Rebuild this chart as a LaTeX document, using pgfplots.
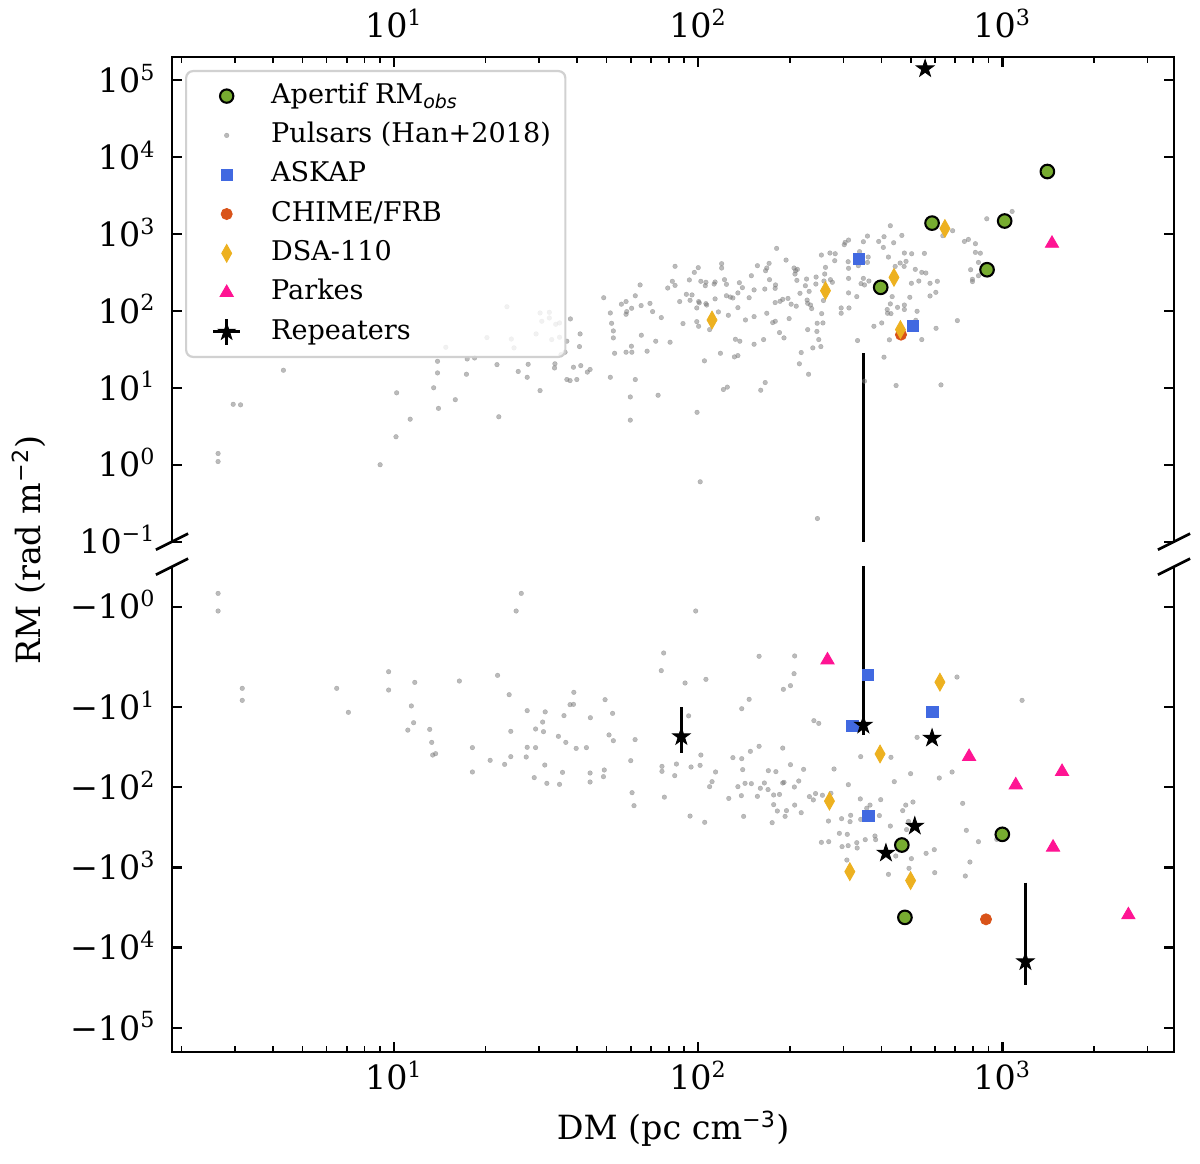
\documentclass[border=0pt]{standalone}
\usepackage{pgfplots}
\usepackage{pgfplotstable}
\pgfplotsset{compat=1.18}
\usepackage{fontspec}
\setmainfont{DejaVu Serif}
\newfontfamily\dvsans{DejaVu Sans}

\definecolor{apgreen}{RGB}{119,172,48}
\definecolor{askapblue}{RGB}{65,105,225}
\definecolor{chimeorange}{RGB}{217,83,25}
\definecolor{dsagold}{RGB}{237,177,32}
\definecolor{parkespink}{RGB}{255,20,147}
\definecolor{psrgray}{RGB}{119,119,119}
\definecolor{legframe}{RGB}{204,204,204}

\newcommand{\tp}[1]{10\textsuperscript{#1}}

\pgfdeclareplotmark{fstar}{%
  \pgfpathmoveto{\pgfpointpolar{90}{\pgfplotmarksize}}%
  \pgfpathlineto{\pgfpointpolar{126}{0.382\pgfplotmarksize}}%
  \pgfpathlineto{\pgfpointpolar{162}{\pgfplotmarksize}}%
  \pgfpathlineto{\pgfpointpolar{198}{0.382\pgfplotmarksize}}%
  \pgfpathlineto{\pgfpointpolar{234}{\pgfplotmarksize}}%
  \pgfpathlineto{\pgfpointpolar{270}{0.382\pgfplotmarksize}}%
  \pgfpathlineto{\pgfpointpolar{306}{\pgfplotmarksize}}%
  \pgfpathlineto{\pgfpointpolar{342}{0.382\pgfplotmarksize}}%
  \pgfpathlineto{\pgfpointpolar{18}{\pgfplotmarksize}}%
  \pgfpathlineto{\pgfpointpolar{54}{0.382\pgfplotmarksize}}%
  \pgfpathclose
  \pgfusepathqfillstroke
}
% star with error-bar cross, used only for the legend entry of the repeaters
\pgfdeclareplotmark{fstarcross}{%
  \pgfsetlinewidth{1.1pt}%
  \pgfpathmoveto{\pgfqpoint{-4.8pt}{0pt}}\pgfpathlineto{\pgfqpoint{4.8pt}{0pt}}%
  \pgfpathmoveto{\pgfqpoint{0pt}{-4.6pt}}\pgfpathlineto{\pgfqpoint{0pt}{4.6pt}}%
  \pgfusepathqstroke
  \pgfsetlinewidth{0.3pt}%
  \pgfpathmoveto{\pgfpointpolar{90}{\pgfplotmarksize}}%
  \pgfpathlineto{\pgfpointpolar{126}{0.382\pgfplotmarksize}}%
  \pgfpathlineto{\pgfpointpolar{162}{\pgfplotmarksize}}%
  \pgfpathlineto{\pgfpointpolar{198}{0.382\pgfplotmarksize}}%
  \pgfpathlineto{\pgfpointpolar{234}{\pgfplotmarksize}}%
  \pgfpathlineto{\pgfpointpolar{270}{0.382\pgfplotmarksize}}%
  \pgfpathlineto{\pgfpointpolar{306}{\pgfplotmarksize}}%
  \pgfpathlineto{\pgfpointpolar{342}{0.382\pgfplotmarksize}}%
  \pgfpathlineto{\pgfpointpolar{18}{\pgfplotmarksize}}%
  \pgfpathlineto{\pgfpointpolar{54}{0.382\pgfplotmarksize}}%
  \pgfpathclose
  \pgfusepathqfillstroke
}

% Pulsars, positive RM (DM, RM)
\pgfplotstableread{
x y
4.33 16.9
2.96 6.1
3.13 6.0
2.64 1.40
2.64 1.10
9.0 1.0
10.15 2.31
11.3 3.91
10.2 8.6
13.5 10.0
14.0 5.4
15.9 7.0
13.9 15.6
13.9 22.1
14.8 33.6
17.3 15.0
17.4 23.7
18.4 24.4
21.8 20.0
22.1 4.2
20.2 44.9
23.5 113
24.3 43
30.2 93.8
32.4 95.8
30.6 73.2
32.4 80.8
34.0 66.9
35.0 69.6
29.3 50.1
33.0 42.3
24.8 33.0
35.0 45.4
38.0 78.5
37.0 40.3
40.9 50.1
40.7 34.3
36.5 29.0
35.4 27.0
27.6 20.2
25.6 16.3
27.4 13.7
30.2 9.2
33.8 20.5
33.7 18.1
38.9 18.5
41.1 19.4
44.1 17.3
43.2 16.0
37.0 12.8
37.9 12.4
39.9 12.8
48.9 148
51.4 93.8
51.9 68.9
52.6 54.8
52.6 44.5
53.1 28.1
51.4 13.7
55.9 122
57.9 132
58.2 97.7
57.9 90.2
60.4 108
62.1 157
64.9 117
64.4 217
69.4 125
70.8 97.7
65.0 48.2
60.3 34.7
57.9 29.0
60.5 29.0
67.9 29.9
62.1 12.8
59.8 7.6
59.8 3.8
73.8 8.0
72.5 40.3
75.6 81.7
80.8 39.1
79.4 198
82.2 242
83.9 214
83.9 379
86.9 132
89.1 68.3
91.4 164
95.4 161
94.0 137
93.5 252
97.1 316
100 364
98.9 109
100.3 132
100.8 127
102 242
105.5 212
106 235
106.6 119
106 124
98.9 72.4
100.3 63.0
104.8 22.4
99.1 4.8
101.5 0.60
109 57.0
113.6 143
113.6 237
112.8 223
116.5 96.8
119.4 410
119.4 360
122 254
123.8 221
123.8 157
125.6 87.5
118.3 28.1
121 9.5
124.6 10.2
127.5 151
130 147
132.5 42.7
137 40.3
135 171
136.5 232
139.7 200
135 110
131.5 25.2
135 26.2
143 76.1
147 148
149.5 286
152.6 187
156.5 386
152.6 84.1
152.6 36.8
164 42.3
160.5 9.3
166 11.7
165.5 192
168 93
166.5 332
168 360
171 414
171.5 254
179 196
179.5 217
179 128
175.7 70.3
179.2 73.2
181 648
185.8 133
189.6 141
185 52.2
191.4 44.5
194.4 457
199 79.3
197.3 145
202 122
206.5 360
209 332
208 301
211.8 346
211 249
210 115
216 169
215 20.5
218 28.7
225 212
227 259
229 125
231.5 179
228 138
234 119
236 107
229 57
238 33.0
244 275
243.6 223
230.5 15.0
254 531
262 367
260.5 301
259 244
258 136
254.5 92
257 69.6
246 69
245.5 54
249 42.3
253 34.3
271 564
282 552
281 448
272 254
276 235
295 109
295 93
304 775
302 723
312 831
311 435
312 357
312 264
312 171
313 109
246.5 0.20
349 791
360 937
392 798
408 918
428 1276
467 955
439 767
406 667
339 587
362 500
336 386
360 426
349 264
352 217
343 226
364 244
332 153
422 500
444 378
461 418
476 564
503 552
554 558
482 439
475 378
517 346
543 316
560 310
531 244
502 228
578 228
611 242
496 150
434 153
428 123
418 104
419 93
430 92
452 111
476 119
476 104
524 98.7
519 75.4
401 69.6
378 63.0
334 41.1
425 42.0
543 42.3
605 59.3
578 156
604 174
711 74.6
408 25.0
352 12.2
447 10.7
628 10.9
637 946
686 1099
750 798
773 847
815 745
815 575
846 561
834 426
786 342
797 257
797 240
834 286
888 1572
1076 1957
}\psrtop

% Pulsars, negative RM (DM, |RM|)
\pgfplotstableread{
x y
2.64 0.383
2.64 0.635
3.17 5.85
3.17 8.26
6.48 5.85
7.08 11.65
9.6 3.63
9.6 6.14
11.7 4.93
11.4 9.7
11.6 15.7
11.1 19.4
13.1 19.0
13.3 27.6
13.4 39.7
13.7 38.2
16.4 4.74
18.1 32.1
18.1 64.6
20.7 46.2
21.9 4.03
23.1 51.9
23.9 7.02
24.2 20.1
24.2 41.6
26.2 0.383
25.2 0.635
27.4 11.1
31.4 11.5
30.8 15.4
31.0 20.3
29.2 18.8
27.4 31.8
29.2 32.1
27.2 42.0
36.2 12.8
39.0 6.56
37.9 9.35
38.9 9.27
34.7 23.2
36.7 27.6
39.7 32.8
42.9 32.1
44.2 13.6
49.4 8.1
52.3 12.0
50.9 22.3
52.6 26.3
31.3 52.9
35.8 65.3
28.9 76.0
31.8 89.5
35.0 92.1
44.1 66.5
44.1 86.1
49.1 61.0
48.8 73.9
60.0 46.7
62.0 25.5
60.6 117
61.5 170
77.0 2.12
75.6 3.52
90.5 5.02
106 4.52
93.0 12.9
98.1 0.635
76.0 55.0
76.0 63.4
84.8 51.4
83.7 71.8
77.4 133
94.7 56.0
101.4 53.4
102 39.7
114 64.6
111 85.3
109 98.5
94.0 229
105 274
126 138
130 42.8
139 44.1
140 60.4
148.4 35.7
158.5 30.9
158.5 2.33
207.5 2.31
206.5 3.84
201 5.42
190.5 6.02
147 8.02
139 10.5
135 98.5
142.5 89.5
149.5 90.3
138.6 127.5
141 231
156.5 130
160 103
165 88.6
170 62.2
180 64.0
169.6 107
177 125
185 123
189.6 88.6
191.4 87.0
189.6 32.5
201 52.4
222 59.9
214 83.7
207 99.4
177 165
182 198
195 196
193 231
175 277
207.5 167
218 208
232 131
239 144
243 120
256 126
273 119
279.5 59.3
240 14.8
249 16.0
268 264
254 487
268.5 478
296 247
291 376
297 551
709 4.23
1160 8.26
524 23.9
342 41.6
430 42.4
499 67.8
441 85.3
620 76.8
683 64.6
311.5 93.0
341 140
398 143
481 167
508 153
470 196
367 167
358 183
317 224
342 252
315.5 269
394 226
428 305
491 267
484 338
740 159
761 345
834 478
958 447
309 387
311 536
332 492
333 573
354 451
381 406
383 451
308 809
446 721
502 778
493 1027
561 668
597 601
782 857
755 1280
599 1163
422 1221
}\psrbot

\begin{document}
\begin{tikzpicture}
\useasboundingbox (0pt,0pt) rectangle (432pt,418.68pt);

% ---------- upper panel: positive RM ----------
\begin{axis}[name=ptop, at={(61.92pt,223.67pt)}, anchor=south west,
  scale only axis, width=360.72pt, height=174.49pt,
  xmode=log, ymode=log,
  xmin=1.863, xmax=3664, ymin=0.1, ymax=1.989e5,
  tick align=inside,
  major tick length=3.5pt, minor tick length=2pt,
  every major tick/.append style={black, line width=0.8pt},
  every minor tick/.append style={black, line width=0.6pt},
  axis line style={draw=none},
  xtick={10,100,1000},
  xticklabels={\tp{1},\tp{2},\tp{3}},
  minor xtick={2,3,4,5,6,7,8,9,20,30,40,50,60,70,80,90,200,300,400,500,600,700,800,900,2000,3000},
  yminorticks=false,
  ytick={0.1,1,10,100,1000,10000,100000},
  yticklabels={\tp{−1},\tp{0},\tp{1},\tp{2},\tp{3},\tp{4},\tp{5}},
  xtick pos=right, xticklabel pos=right,
  ytick pos=both, yticklabel pos=left,
  tick label style={font=\fontsize{12}{14.4}\selectfont},
  yticklabel style={anchor=base east, inner sep=0pt, xshift=-5.6pt, yshift=-4.4pt},
  xticklabel style={anchor=base, yshift=7pt},
  legend cell align=left,
  legend style={at={(axis description cs:0.013,0.9732)}, anchor=north west,
    draw=legframe, line width=0.8pt, fill=white, fill opacity=0.8, draw opacity=0.9, text opacity=1,
    rounded corners=2.5pt, inner xsep=5.2pt, inner ysep=4pt,
    row sep=4.15pt, column sep=8.4pt,
    nodes={inner sep=0pt, text height=7.6pt, text depth=2.4pt},
    font=\fontsize{9.75}{12}\selectfont},
  legend image code/.code={%
    \path[draw=none, fill=none] (0pt,-3pt) rectangle (17pt,3pt);
    \draw[sharp corners, fill opacity=1, draw opacity=1, line width=0.4pt, #1] plot coordinates {(9.4pt,0pt)};},
]
\addlegendimage{only marks, mark=*, mark size=2.4pt, mark options={fill=apgreen, draw=black, line width=0.75pt}}
\addlegendentry{Apertif RM\textsubscript{\dvsans\itshape obs}}
\addlegendimage{only marks, mark=*, mark size=0.85pt, mark options={draw=psrgray, fill=psrgray, line width=0.1pt, opacity=0.5}}
\addlegendentry{Pulsars (Han+2018)}
\addlegendimage{only marks, mark=square*, mark size=2.05pt, mark options={fill=askapblue, draw=askapblue, line width=0.3pt}}
\addlegendentry{ASKAP}
\addlegendimage{only marks, mark=*, mark size=2.0pt, mark options={fill=chimeorange, draw=chimeorange, line width=0.3pt}}
\addlegendentry{CHIME/FRB}
\addlegendimage{only marks, mark=diamond*, mark size=3.2pt, mark options={fill=dsagold, draw=dsagold, line width=0.3pt, xscale=0.75}}
\addlegendentry{DSA-110}
\addlegendimage{only marks, mark=triangle*, mark size=2.75pt, mark options={fill=parkespink, draw=parkespink, line width=0.3pt}}
\addlegendentry{Parkes}
\addlegendimage{only marks, mark=fstarcross, mark size=3.2pt, mark options={fill=black, draw=black}}
\addlegendentry{Repeaters}

\addplot[only marks, mark=*, mark size=0.85pt, mark options={draw=psrgray, fill=psrgray, line width=0.1pt, opacity=0.5}, forget plot] table {\psrtop};
\addplot[black, line width=1pt, forget plot] coordinates {(349,0.05) (349,28)};
\addplot[only marks, mark=square*, mark size=2.05pt, mark options={fill=askapblue, draw=askapblue, line width=0.3pt}, forget plot] coordinates {(338,475) (507,64)};
\addplot[only marks, mark=*, mark size=2.0pt, mark options={fill=chimeorange, draw=chimeorange, line width=0.3pt}, forget plot] coordinates {(464,49)};
\addplot[only marks, mark=diamond*, mark size=3.2pt, mark options={fill=dsagold, draw=dsagold, line width=0.3pt, xscale=0.75}, forget plot] coordinates {(647,1175) (440,272) (462,57) (111,76) (262,183)};
\addplot[only marks, mark=triangle*, mark size=2.75pt, mark options={fill=parkespink, draw=parkespink, line width=0.3pt}, forget plot] coordinates {(1455,750)};
\addplot[only marks, mark=*, mark size=2.45pt, mark options={fill=apgreen, draw=black, line width=0.75pt}, forget plot] coordinates {(1405,6460) (587,1380) (1017,1470) (890,342) (398,202)};
\addplot[only marks, mark=fstar, mark size=3.3pt, mark options={fill=black, draw=black, line width=0.3pt}, forget plot] coordinates {(557,1.4e5)};
\end{axis}

% ---------- lower panel: negative RM (plotted as |RM|, axis reversed) ----------
\begin{axis}[name=pbot, at={(61.92pt,40.07pt)}, anchor=south west,
  scale only axis, width=360.72pt, height=174.6pt,
  xmode=log, ymode=log, y dir=reverse,
  xmin=1.863, xmax=3664, ymin=0.178, ymax=1.987e5,
  tick align=inside,
  major tick length=3.5pt, minor tick length=2pt,
  every major tick/.append style={black, line width=0.8pt},
  every minor tick/.append style={black, line width=0.6pt},
  axis line style={draw=none},
  xtick={10,100,1000},
  xticklabels={\tp{1},\tp{2},\tp{3}},
  minor xtick={2,3,4,5,6,7,8,9,20,30,40,50,60,70,80,90,200,300,400,500,600,700,800,900,2000,3000},
  yminorticks=false,
  ytick={0.5614,10,100,1000,10000,100000},
  yticklabels={−\tp{0},−\tp{1},−\tp{2},−\tp{3},−\tp{4},−\tp{5}},
  xtick pos=left, xticklabel pos=left,
  ytick pos=both, yticklabel pos=left,
  tick label style={font=\fontsize{12}{14.4}\selectfont},
  yticklabel style={anchor=base east, inner sep=0pt, xshift=-5.6pt, yshift=-4.4pt},
  xticklabel style={anchor=base, yshift=-13.6pt},
]
\addplot[only marks, mark=*, mark size=0.85pt, mark options={draw=psrgray, fill=psrgray, line width=0.1pt, opacity=0.5}] table {\psrbot};
\addplot[black, line width=1pt] coordinates {(88,10) (88,37.1)};
\addplot[black, line width=1pt] coordinates {(349,0.1) (349,22.3)};
\addplot[black, line width=1pt] coordinates {(1190,1550) (1190,29300)};
\addplot[only marks, mark=square*, mark size=2.05pt, mark options={fill=askapblue, draw=askapblue, line width=0.3pt}] coordinates {(361,4.0) (588,11.5) (363,229) (321,17.1)};
\addplot[only marks, mark=*, mark size=2.0pt, mark options={fill=chimeorange, draw=chimeorange, line width=0.3pt}] coordinates {(883,4440)};
\addplot[only marks, mark=diamond*, mark size=3.2pt, mark options={fill=dsagold, draw=dsagold, line width=0.3pt, xscale=0.75}] coordinates {(623,4.9) (396,38.5) (315,1130) (499,1460) (270,149)};
\addplot[only marks, mark=triangle*, mark size=2.75pt, mark options={fill=parkespink, draw=parkespink, line width=0.3pt}] coordinates {(266,2.6) (777,41.6) (1570,64) (1106,94) (1467,562) (2594,3920)};
\addplot[only marks, mark=*, mark size=2.45pt, mark options={fill=apgreen, draw=black, line width=0.75pt}] coordinates {(467,526) (999,387) (478,4200)};
\addplot[only marks, mark=fstar, mark size=3.3pt, mark options={fill=black, draw=black, line width=0.3pt}] coordinates {(88,23.4) (349,16.8) (587,24.4) (515,305) (414,662) (1190,14980)};
\end{axis}

% spines
\draw[line width=0.8pt] (ptop.south west) -- (ptop.north west) -- (ptop.north east) -- (ptop.south east);
\draw[line width=0.8pt] (pbot.north west) -- (pbot.south west) -- (pbot.south east) -- (pbot.north east);
% break marks
\foreach \cc in {ptop.south west, ptop.south east, pbot.north west, pbot.north east}{
  \draw[line width=1pt] ([shift={(-5.8pt,-2.9pt)}]\cc) -- ++(11.6pt,5.8pt);
}

% axis labels
\node[rotate=90, font=\fontsize{12}{14.4}\selectfont] at (10.5pt,220.7pt) {RM (rad m\textsuperscript{\dvsans −2})};
\node[anchor=base, font=\fontsize{12}{14.4}\selectfont] at (242.3pt,8.3pt) {DM (pc cm\textsuperscript{\dvsans −3})};
\end{tikzpicture}
\end{document}
